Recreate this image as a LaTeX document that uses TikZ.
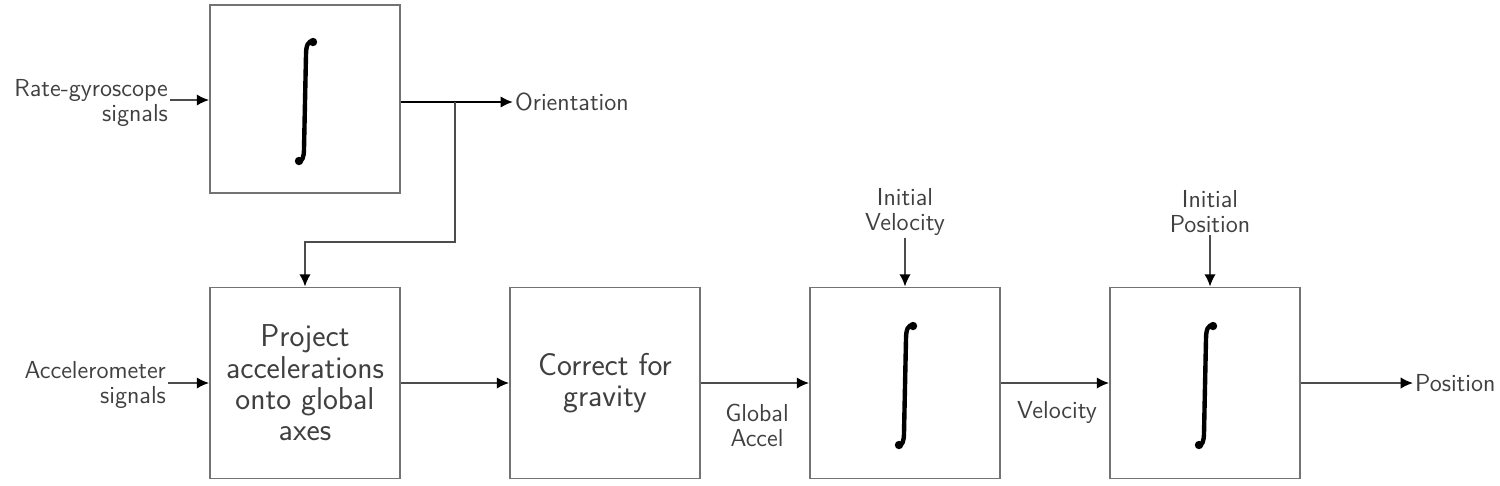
\documentclass[tikz,border=0pt]{standalone}
\usetikzlibrary{arrows.meta}
\begin{document}
\begin{tikzpicture}[x=0.02cm,y=-0.02cm,
  blockbox/.style={draw=black!55,line width=1.1pt,minimum width=3.8cm,minimum height=3.82cm,inner sep=0pt,align=center,
    text=black!75,font=\sffamily\fontsize{18}{17.8}\selectfont},
  lbl/.style={inner sep=1pt,text=black!75,font=\sffamily\fontsize{14}{14.2}\selectfont},
  conn/.style={draw=black!70,line width=1pt,-{Latex[length=7pt,width=6.5pt,black]}},
  integral/.pic={
    \draw[line width=2.5pt,line cap=round,black]
      (8,-57) .. controls (3,-59) and (1,-53) .. (1,-44) -- (-1,50)
      .. controls (-1,58) and (-3,63) .. (-6,62);
    \fill[black] (8,-57) circle (4.2);
    \fill[black] (-6,62) circle (4.2);
  }
]
\useasboundingbox (0,0) rectangle (1500,485);
% blocks
\node[blockbox,minimum height=3.76cm] (top) at (305,99) {};
\node[blockbox] (proj) at (305,383) {Project\\accelerations\\onto global\\axes};
\node[blockbox] (grav) at (605,383) {Correct for\\gravity};
\node[blockbox] (vel) at (905,383) {};
\node[blockbox] (pos) at (1205,383) {};
% integral signs
\pic at (top.center) {integral};
\pic at (vel.center) {integral};
\pic at (pos.center) {integral};
% labels
\node[lbl,anchor=east,align=right] (rg) at (170,103) {Rate-gyroscope\\signals};
\node[lbl,anchor=east,align=right] (acc) at (168,385) {Accelerometer\\signals};
\node[lbl,anchor=west] (orient) at (513,102) {Orientation};
\node[lbl,align=center] (iv) at (905,212) {Initial\\Velocity};
\node[lbl,align=center] (ip) at (1210,212) {Initial\\Position};
\node[lbl,align=center] (ga) at (757,425) {Global\\Accel};
\node[lbl] (vl) at (1057,412) {Velocity};
\node[lbl,anchor=west] (posl) at (1413,383) {Position};
% connectors
\coordinate (rgin) at (170,100);
\coordinate (br) at (455,102);
\coordinate (bend) at (455,242);
\draw[conn] (rgin) -- (rgin -| top.west);
\draw[conn,line width=1.5pt,draw=black] (br -| top.east) -- (orient.west);
\draw[conn] (br) -- (bend) -| (proj.north);
\draw[conn] (acc.east |- proj.west) -- (proj.west);
\draw[conn] (proj.east) -- (grav.west);
\draw[conn] (grav.east) -- (vel.west);
\draw[conn] (vel.east) -- (pos.west);
\draw[conn] (pos.east) -- (posl.west);
\draw[conn] (iv.south) -- (iv.south |- vel.north);
\draw[conn] (ip.south) -- (ip.south |- pos.north);
\end{tikzpicture}
\end{document}
